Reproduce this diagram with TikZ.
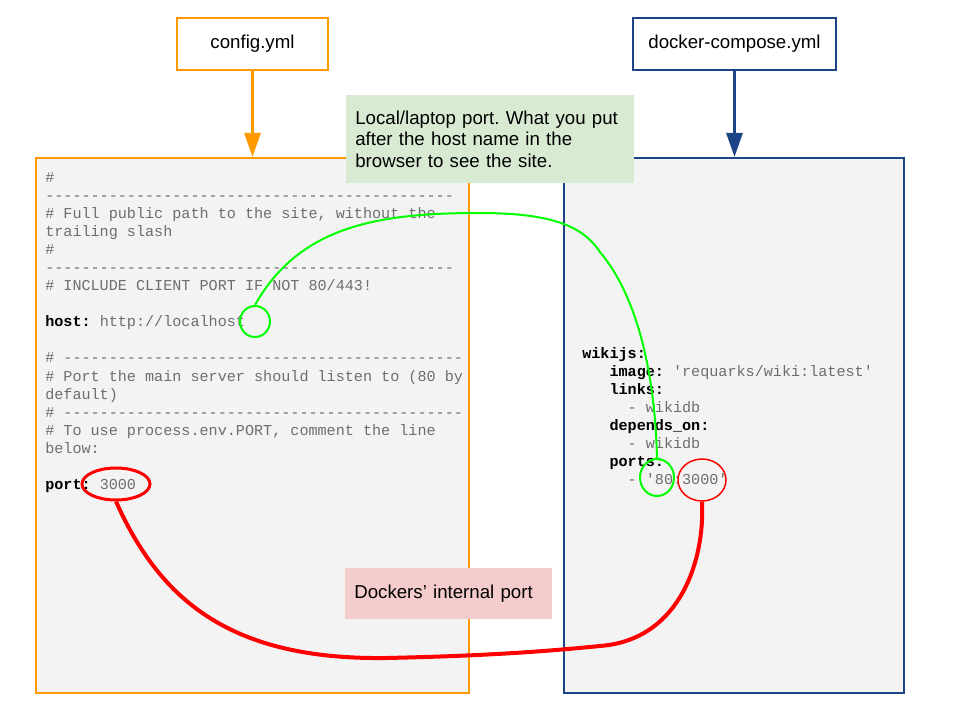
\documentclass[tikz,border=0pt]{standalone}
\usepackage{fontspec}
\setmainfont{Liberation Sans}
\setmonofont{Liberation Mono}
\usepackage{tikz}
\usepackage{xcolor}
\usetikzlibrary{positioning,arrows.meta,shapes.geometric}

\definecolor{cfgorange}{HTML}{FF9900}
\definecolor{dockblue}{HTML}{1C4587}
\definecolor{panelgray}{HTML}{F3F3F3}
\definecolor{codegray}{HTML}{6E6E6E}
\definecolor{notegreen}{HTML}{D9EAD3}
\definecolor{notepink}{HTML}{F4CCCC}
\definecolor{ringgreen}{HTML}{00FF00}
\definecolor{ringred}{HTML}{FF0000}

\begin{document}
\frenchspacing
\begin{tikzpicture}[
    x=0.75pt,y=-0.75pt,
    every node/.style={font=\fontsize{14}{16.1}\selectfont},
    filebox/.style={rectangle,draw,line width=1.6pt,fill=white,minimum height=39pt},
    panel/.style={rectangle,draw,line width=1.6pt,fill=panelgray,minimum height=401.25pt},
    code/.style={anchor=north west,inner sep=0pt,align=left,text=codegray,
        font=\ttfamily\fontsize{11.35}{13.55}\selectfont},
    note/.style={rectangle,inner sep=7pt,align=left},
    ring/.style={ellipse,draw,inner sep=0pt},
    feed/.style={line width=2.25pt,-{Triangle[length=18pt,width=12pt]}}
]
\useasboundingbox (0,0) rectangle (960,720);

% File name boxes
\node[filebox,draw=cfgorange,minimum width=113.6pt] (config)  at (252.5,44) {config.yml};
\node[filebox,draw=dockblue,minimum width=152.6pt]  (compose) at (734.5,44) {docker-compose.yml};

% File contents
\node[panel,draw=cfgorange,minimum width=324.75pt] (confpanel)    at (252.5,425.5) {};
\node[panel,draw=dockblue,minimum width=255pt]     (composepanel) at (734,425.5)   {};

\node[code] (conftext) at (45,169.4) {\strut\#\\
---------------------------------------------\\
\# Full public path to the site, without the\\
trailing slash\\
\#\\
---------------------------------------------\\
\# INCLUDE CLIENT PORT IF NOT 80/443!\\
\mbox{}\\
\textcolor{black}{\bfseries host:} http://localhost\\
\mbox{}\\
\# --------------------------------------------\\
\# Port the main server should listen to (80 by\\
default)\\
\# --------------------------------------------\\
\# To use process.env.PORT, comment the line\\
below:\\
\mbox{}\\
\textcolor{black}{\bfseries port:} 3000};

\node[code] (composetext) at (582,345.4) {\strut\textcolor{black}{\bfseries wikijs:}\\
\ \ \ \textcolor{black}{\bfseries image:} 'requarks/wiki:latest'\\
\ \ \ \textcolor{black}{\bfseries links:}\\
\ \ \ \ \ - wikidb\\
\ \ \ \textcolor{black}{\bfseries depends\_on:}\\
\ \ \ \ \ - wikidb\\
\ \ \ \textcolor{black}{\bfseries ports:}\\
\ \ \ \ \ - '80:3000'};

% Arrows into the panels
\draw[feed,cfgorange] (config.south) -- (config.south |- confpanel.north);
\draw[feed,dockblue] (compose.south) -- (compose.south |- composepanel.north);

% Notes
\node[note,fill=notegreen,minimum width=216pt,minimum height=66pt,text width=202pt] (localnote) at (490,139)
    {Local/laptop port. What you put\\after the host name in the\\browser to see the site.};
\node[note,fill=notepink,minimum width=155.25pt,minimum height=38.25pt,text width=141.25pt] (internnote) at (448.5,593.5)
    {Dockers’ internal port};

% Rings round the values
\node[ring,ringgreen,line width=1.5pt,minimum width=22.5pt,minimum height=23.25pt] (hostring)   at (255,321.5) {};
\node[ring,ringgreen,line width=1.5pt,minimum width=25.5pt,minimum height=27.75pt] (eightyring) at (657,477.5) {};
\node[ring,ringred,line width=2.25pt,minimum width=51pt,minimum height=24pt]       (portring)   at (116,484)   {};
\node[ring,ringred,line width=1.1pt,minimum width=36pt,minimum height=31.5pt]      (internring) at (702,480)   {};

% Links between the files
\draw[ringgreen,line width=1.5pt] (hostring.north) .. controls (300,225) and (380,213) .. (480,213)
    .. controls (560,213) and (585,230) .. (600,252)
    .. controls (640,300) and (655,380) .. (eightyring.north);
\draw[ringred,line width=3pt] (portring.south) .. controls (160,600) and (230,660) .. (386,658)
    .. controls (480,656) and (540,652) .. (600,646)
    .. controls (680,640) and (705,560) .. (internring.south);

\end{tikzpicture}
\end{document}
